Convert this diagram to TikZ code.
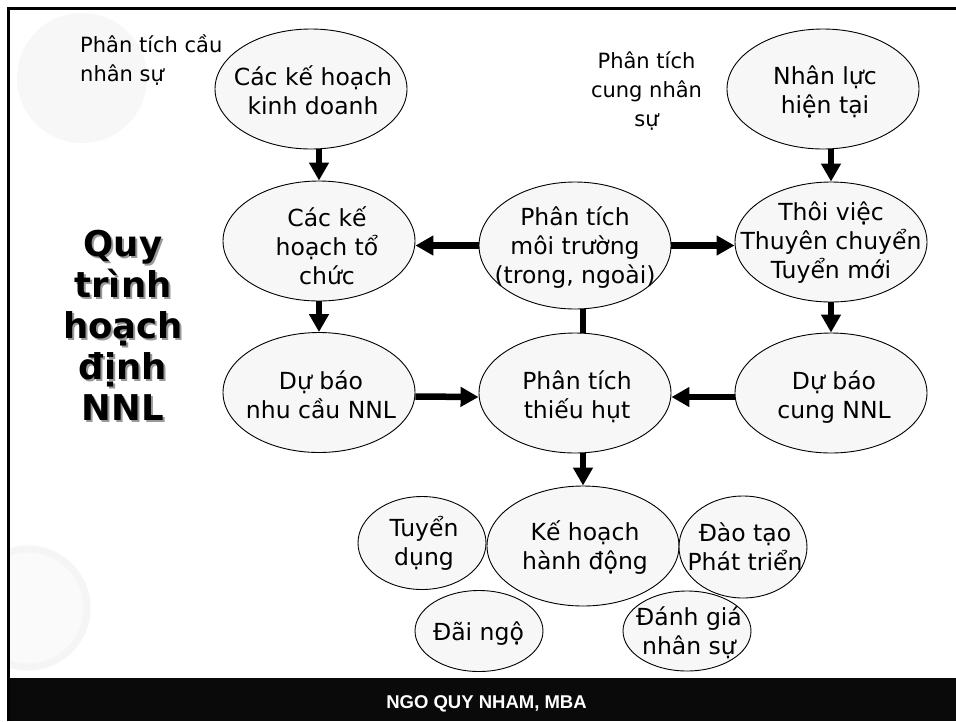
\documentclass[tikz,border=0pt]{standalone}
\usepackage{fontspec}
\setmainfont{DejaVu Sans}
\newfontfamily\footfont{Liberation Sans}
\usetikzlibrary{shapes.geometric, arrows.meta}

\begin{document}
\begin{tikzpicture}[
        x=1pt, y=-1pt,
        ell/.style={draw, ellipse, fill=black!3, line width=0.9pt, minimum width=192pt, minimum height=120pt, inner sep=0pt},
        small/.style={ell, minimum width=128pt},
        txt/.style={align=center, anchor=base, inner sep=0pt, font=\fontsize{23.5}{29}\selectfont},
        lbl/.style={txt, font=\fontsize{21}{29}\selectfont},
        title/.style={txt, font=\bfseries\fontsize{35.5}{41}\selectfont},
        arr/.style={line width=6.5pt, -{Triangle[width=19pt,length=18pt]}},
    ]
    \useasboundingbox (0,0) rectangle (956,721);
    \fill[white] (0,0) rectangle (956,721);

    % faint background art
    \begin{scope}
        \clip (10,10) rectangle (956,678);
        \fill[black!3] (82,78) circle (65);
        \fill[black!2] (28,608) circle (62);
        \draw[black!4, line width=7pt] (28,608) circle (59);
    \end{scope}

    % frame and footer
    \fill[black!96] (7,678) rectangle (956,721);
    \draw[line width=3pt] (8.5,721) -- (8.5,8.5) -- (956,8.5);
    \node[text=white, font=\footfont\bfseries\fontsize{18.5}{22}\selectfont] (tacgia) at (486.5,704) {NGO QUY NHAM, MBA};

    % title with shadow (base = last line)
    \node[title, text=black!40] (tieude-bong) at (125,422) {Quy\\trình\\hoạch\\định\\NNL};
    \node[title] (tieude) at (123,420) {Quy\\trình\\hoạch\\định\\NNL};

    % side labels
    \node[lbl, align=left, anchor=base west] (cau) at (80,81) {Phân tích cầu\\nhân sự};
    \node[lbl] (cungns) at (646.5,126) {Phân tích\\cung nhân\\sự};

    % ellipses
    \node[ell] (kdoanh) at (311,89) {};
    \node[ell] (tchuc) at (319,241) {};
    \node[ell] (ncau) at (319,392.5) {};
    \node[ell, minimum height=127pt] (mtruong) at (575,245.5) {};
    \node[ell] (thieuhut) at (575,393) {};
    \node[ell] (nluc) at (823,89) {};
    \node[ell] (thoiviec) at (831,242) {};
    \node[ell] (cung) at (831,393) {};
    \node[ell] (hdong) at (583,546) {};
    \node[small, minimum height=93pt] (tdung) at (422,543) {};
    \node[small, minimum height=81pt] (daingo) at (479,631) {};
    \node[small, minimum height=102pt] (daotao) at (743,547) {};
    \node[small, minimum height=80pt] (danhgia) at (687,631) {};

    % texts (base = last line)
    \node[txt] (kdoanh-t) at (313,114) {Các kế hoạch\\kinh doanh};
    \node[txt] (tchuc-t) at (327,284) {Các kế\\hoạch tổ\\chức};
    \node[txt] (ncau-t) at (321,418) {Dự báo\\nhu cầu NNL};
    \node[txt] (mtruong-t) at (575,283) {Phân tích\\môi trường\\(trong, ngoài)};
    \node[txt] (thieuhut-t) at (577,418) {Phân tích\\thiếu hụt};
    \node[txt] (nluc-t) at (825,113) {Nhân lực\\hiện tại};
    \node[txt] (thoiviec-t) at (831,278) {Thôi việc\\Thuyên chuyển\\Tuyển mới};
    \node[txt] (cung-t) at (834,418) {Dự báo\\cung NNL};
    \node[txt] (hdong-t) at (585,569) {Kế hoạch\\hành động};
    \node[txt] (tdung-t) at (424,565) {Tuyển\\dụng};
    \node[txt] (daingo-t) at (478.5,640) {Đãi ngộ};
    \node[txt] (daotao-t) at (745,570) {Đào tạo\\Phát triển};
    \node[txt] (danhgia-t) at (689,654) {Đánh giá\\nhân sự};

    % connectors
    \draw[arr] (kdoanh.south -| tchuc) -- (tchuc.north);
    \draw[arr] (tchuc) -- (ncau);
    \draw[arr] (mtruong.west) -- (mtruong.west -| tchuc.east);
    \draw[arr] (mtruong.east) -- (mtruong.east -| thoiviec.west);
    \draw[line width=6.5pt] (mtruong.south -| hdong) -- (thieuhut.north -| hdong);
    \draw[arr] (nluc.south -| thoiviec) -- (thoiviec.north);
    \draw[arr] (thoiviec) -- (cung);
    \draw[arr] ([yshift=-4pt]ncau.east) -- ([yshift=-4pt]thieuhut.west);
    \draw[arr] ([yshift=-4pt]cung.west) -- ([yshift=-4pt]thieuhut.east);
    \draw[arr] (thieuhut.south -| hdong) -- (hdong.north);

\end{tikzpicture}
\end{document}
